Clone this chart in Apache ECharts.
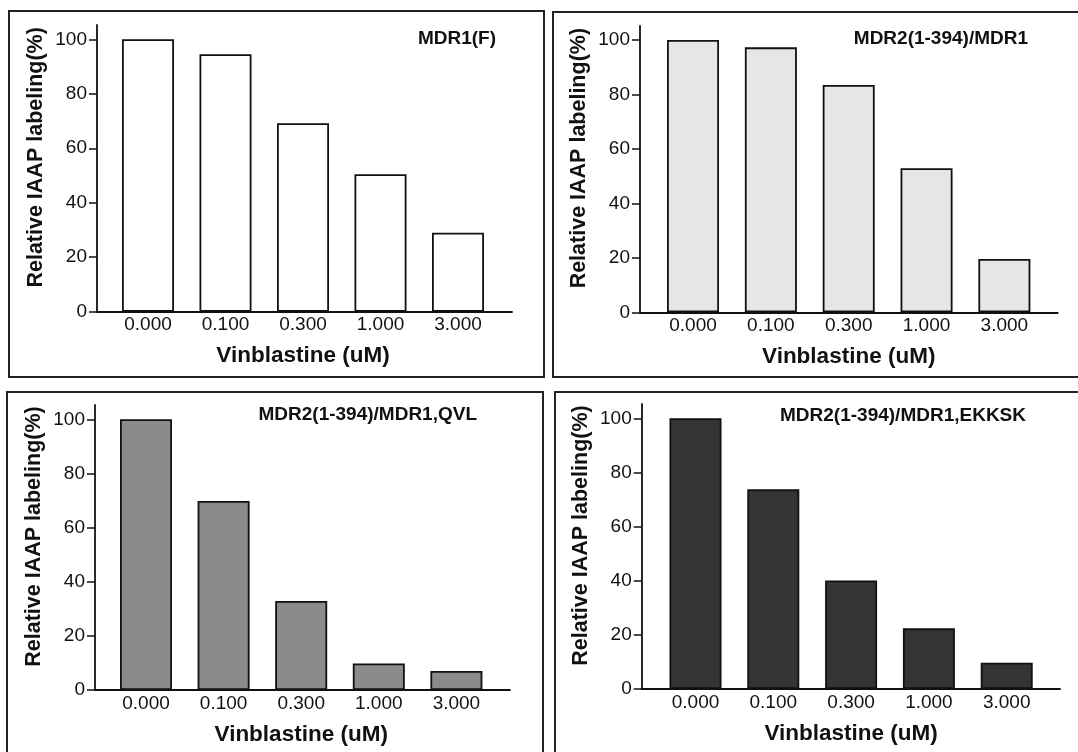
<!DOCTYPE html>
<html>
<head>
<meta charset="utf-8">
<script src="https://cdn.jsdelivr.net/npm/echarts@6/dist/echarts.min.js"></script>
<style>
html,body{margin:0;padding:0;background:#fff;}
#chart{width:1078px;height:752px;}
</style>
</head>
<body>
<div id="chart"></div>
<script>
// ---- data ----
const categories = ['0.000', '0.100', '0.300', '1.000', '3.000'];
const yTicks = [0, 20, 40, 60, 80, 100];
const titles = ['MDR1(F)', 'MDR2(1-394)/MDR1', 'MDR2(1-394)/MDR1,QVL', 'MDR2(1-394)/MDR1,EKKSK'];
const valuesMDR1F = [100, 94.5, 69.2, 50.5, 29.0];
const valuesMDR2 = [100, 97.3, 83.5, 52.9, 19.6];
const valuesQVL = [100, 69.8, 32.9, 9.8, 7.0];
const valuesEKKSK = [100, 73.8, 40.1, 22.4, 9.7];
const xName = 'Vinblastine (uM)';
const yName = 'Relative IAAP labeling(%)';

// ---- layout ----
const FONT = 'Liberation Sans, Arial, Helvetica, sans-serif';
const panels = [
  {vals: valuesMDR1F, color: '#ffffff', frame: {left: 97, top: 25, width: 415, height: 286.7}, ymax: 105.25,
   bars: {left: 109.25, width: 387.5}, titleRight: 1078 - 501, titleTop: 24, border: [9, 11, 535, 366]},
  {vals: valuesMDR2, color: '#e6e6e6', frame: {left: 640, top: 26, width: 417.7, height: 286.3}, ymax: 105.14,
   bars: {left: 654.1, width: 389.2}, titleRight: 1078 - 1033, titleTop: 24, border: [553, 12, 560, 365]},
  {vals: valuesQVL, color: '#8b8b8b', frame: {left: 95, top: 405, width: 415, height: 285}, ymax: 105.28,
   bars: {left: 107.2, width: 388}, titleRight: 1078 - 482, titleTop: 400, border: [7, 392, 536, 400]},
  {vals: valuesEKKSK, color: '#343434', frame: {left: 641.7, top: 404, width: 418.3, height: 285}, ymax: 105.28,
   bars: {left: 656.6, width: 389}, titleRight: 1078 - 1031, titleTop: 401, border: [555, 392, 560, 400]}
];

const grid = [], xAxis = [], yAxis = [], series = [], title = [], graphic = [];
panels.forEach((p, i) => {
  const gFrame = grid.length;
  grid.push({left: p.frame.left, top: p.frame.top, width: p.frame.width, height: p.frame.height});
  const gBars = grid.length;
  grid.push({left: p.bars.left, top: p.frame.top, width: p.bars.width, height: p.frame.height});

  // frame axes (axis lines, y ticks, y labels, y name)
  xAxis.push({type: 'value', gridIndex: gFrame, min: 0, max: 1,
    axisLine: {show: true, lineStyle: {color: '#111', width: 1.8}},
    axisTick: {show: false}, axisLabel: {show: false}, splitLine: {show: false}});
  yAxis.push({type: 'value', gridIndex: gFrame, min: 0, max: p.ymax,
    axisLine: {show: true, lineStyle: {color: '#111', width: 1.8}},
    axisTick: {show: true, length: 8, lineStyle: {color: '#111', width: 1.5}, customValues: yTicks},
    axisLabel: {show: true, margin: 10, fontSize: 19, color: '#111', fontFamily: FONT, customValues: yTicks},
    splitLine: {show: false},
    name: yName, nameLocation: 'middle', nameGap: 50, nameRotate: 90,
    nameTextStyle: {fontSize: 21.5, fontWeight: 'bold', color: '#111', fontFamily: FONT, padding: [0, 0, 0, 22]}});

  // bar axes
  const xb = xAxis.length;
  xAxis.push({type: 'category', gridIndex: gBars, data: categories,
    axisLine: {show: false}, axisTick: {show: false},
    axisLabel: {show: true, margin: 4, fontSize: 19, color: '#111', fontFamily: FONT, interval: 0},
    name: xName, nameLocation: 'middle', nameGap: 33,
    nameTextStyle: {fontSize: 22.5, fontWeight: 'bold', color: '#111', fontFamily: FONT}});
  const yb = yAxis.length;
  yAxis.push({type: 'value', gridIndex: gBars, min: 0, max: p.ymax, show: false});

  series.push({type: 'bar', xAxisIndex: xb, yAxisIndex: yb, data: p.vals, barWidth: 52,
    itemStyle: {color: p.color, borderColor: '#111', borderWidth: 1.8}, animation: false});

  title.push({text: titles[i], right: p.titleRight, top: p.titleTop,
    textStyle: {fontSize: 19, fontWeight: 'bold', color: '#111', fontFamily: FONT}});

  const b = p.border;
  graphic.push({type: 'rect', shape: {x: b[0], y: b[1], width: b[2], height: b[3]},
    style: {fill: 'none', stroke: '#222', lineWidth: 2}, silent: true, z: 0});
});

const chart = echarts.init(document.getElementById('chart'), null, {renderer: 'canvas'});
chart.setOption({
  animation: false,
  backgroundColor: '#ffffff',
  textStyle: {fontFamily: FONT},
  title, grid, xAxis, yAxis, series, graphic
});
</script>
</body>
</html>
